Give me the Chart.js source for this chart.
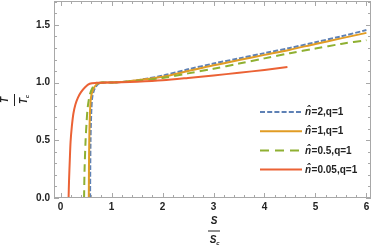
<!DOCTYPE html>
<html>
<head>
<meta charset="utf-8">
<script src="https://cdn.jsdelivr.net/npm/chart.js@4"></script>
<style>
  html, body { margin: 0; padding: 0; background: #fff; }
  #wrap { width: 374px; height: 248px; }
</style>
</head>
<body>
<div id="wrap"><canvas id="tcChart"></canvas></div>
<script>
// curve data: S/Sc (x) and T/Tc (y)
const nLabels = ['2', '1', '0.5', '0.05'];

const n2X = [0.578, 0.581, 0.587, 0.595, 0.605, 0.62, 0.645, 0.685, 0.745, 0.84, 1.0, 1.2, 1.5, 2.0, 2.5, 3.0, 3.5, 4.0, 4.5, 5.0, 5.5, 6.0];
const n2Y = [0, 0.25, 0.5, 0.66, 0.78, 0.87, 0.92, 0.96, 0.99, 1.0, 1.0, 1.005, 1.02, 1.06, 1.115, 1.165, 1.21, 1.255, 1.30, 1.35, 1.40, 1.455];

const n1X = [0.553, 0.556, 0.562, 0.57, 0.58, 0.595, 0.62, 0.66, 0.72, 0.82, 1.0, 1.2, 1.5, 2.0, 2.5, 3.0, 3.5, 4.0, 4.5, 5.0, 5.5, 6.0];
const n1Y = [0, 0.25, 0.5, 0.66, 0.78, 0.87, 0.92, 0.96, 0.99, 1.0, 1.0, 1.005, 1.02, 1.05, 1.10, 1.15, 1.195, 1.24, 1.285, 1.335, 1.383, 1.431];

const n05X = [0.46, 0.47, 0.49, 0.51, 0.53, 0.56, 0.59, 0.63, 0.70, 0.8, 1.0, 1.2, 1.5, 2.0, 2.5, 3.0, 3.5, 4.0, 4.5, 5.0, 5.5, 6.0];
const n05Y = [0, 0.25, 0.5, 0.66, 0.78, 0.87, 0.92, 0.96, 0.99, 1.0, 1.0, 1.005, 1.015, 1.04, 1.08, 1.12, 1.165, 1.21, 1.255, 1.295, 1.335, 1.368];

const n005X = [0.156, 0.165, 0.18, 0.195, 0.22, 0.25, 0.29, 0.34, 0.40, 0.48, 0.57, 0.7, 0.9, 1.2, 1.5, 2.0, 2.5, 3.0, 3.5, 4.0, 4.45];
const n005Y = [0, 0.15, 0.33, 0.485, 0.62, 0.73, 0.81, 0.87, 0.917, 0.96, 0.99, 0.998, 1.0, 1.002, 1.007, 1.02, 1.04, 1.062, 1.085, 1.11, 1.135];

const xTicks = [0, 1, 2, 3, 4, 5, 6];
const yTicks = [0, 0.5, 1.0, 1.5];

function pts(xs, ys) {
    return xs.map((x, i) => ({ x: x, y: ys[i] }));
}

const tickFont = { family: 'Liberation Sans', size: 10, weight: 'bold' };
const frameColor = '#a8a8a8';

// frame, inward ticks, axis fractions and the inset legend
const decor = {
    id: 'decor',
    afterDatasetsDraw(chart) {
        const ctx = chart.ctx;
        const a = chart.chartArea;
        const xs = chart.scales.x, ys = chart.scales.y;
        ctx.save();
        ctx.strokeStyle = frameColor;
        ctx.lineWidth = 1;
        ctx.strokeRect(a.left + 0.5, a.top + 0.5, a.right - a.left - 1, a.bottom - a.top - 1);
        ctx.beginPath();
        for (let i = 0; i <= 30; i++) {
            const v = i * 0.2;
            const px = Math.round(xs.getPixelForValue(v)) + 0.5;
            const len = (i % 5 === 0) ? 5 : 3;
            ctx.moveTo(px, a.bottom); ctx.lineTo(px, a.bottom - len);
            ctx.moveTo(px, a.top); ctx.lineTo(px, a.top + len);
        }
        for (let i = 0; i <= 17; i++) {
            const v = i * 0.1;
            const py = Math.round(ys.getPixelForValue(v)) + 0.5;
            const len = (i % 5 === 0) ? 5 : 3;
            ctx.moveTo(a.left, py); ctx.lineTo(a.left + len, py);
            ctx.moveTo(a.right, py); ctx.lineTo(a.right - len, py);
        }
        ctx.stroke();

        // x title: S over Sc
        ctx.fillStyle = '#222';
        ctx.strokeStyle = '#222';
        ctx.textAlign = 'center';
        ctx.textBaseline = 'middle';
        let cx = 214;
        ctx.font = 'italic bold 10px Liberation Sans';
        ctx.fillText('S', cx, 221);
        ctx.beginPath(); ctx.moveTo(cx - 6, 231); ctx.lineTo(cx + 6, 231); ctx.stroke();
        ctx.fillText('S', cx - 1, 240);
        ctx.font = 'italic bold 6px Liberation Sans';
        ctx.fillText('c', cx + 4, 243);

        // y title: T over Tc, rotated
        ctx.save();
        ctx.translate(14, 100);
        ctx.rotate(-Math.PI / 2);
        ctx.font = 'italic bold 10px Liberation Sans';
        ctx.fillText('T', 0, -9);
        ctx.beginPath(); ctx.moveTo(-6, 0.5); ctx.lineTo(6, 0.5); ctx.stroke();
        ctx.fillText('T', -1, 10);
        ctx.font = 'italic bold 6px Liberation Sans';
        ctx.fillText('c', 3.5, 13);
        ctx.restore();

        // legend
        ctx.textAlign = 'left';
        chart.data.datasets.forEach((ds, i) => {
            const y = 112 + i * 19.2;
            ctx.save();
            ctx.strokeStyle = ds.borderColor;
            ctx.lineWidth = ds.borderWidth;
            ctx.setLineDash(ds.legendDash || []);
            ctx.beginPath(); ctx.moveTo(260, y); ctx.lineTo(302, y); ctx.stroke();
            ctx.restore();
            ctx.fillStyle = '#222';
            ctx.font = 'italic bold 10px Liberation Sans';
            ctx.fillText('n\u0302', 305, y + 0.5);
            const w = ctx.measureText('n').width;
            ctx.font = 'bold 10px Liberation Sans';
            ctx.fillText('=' + nLabels[i] + ',q=1', 305 + w + 0.5, y + 0.5);
        });
        ctx.restore();
    }
};

const config = {
    type: 'scatter',
    data: {
        datasets: [
            { label: 'n=' + nLabels[0], data: pts(n2X, n2Y), borderColor: '#5E81B5', borderDash: [5, 2], legendDash: [5, 2.2], order: 4 },
            { label: 'n=' + nLabels[1], data: pts(n1X, n1Y), borderColor: '#E19C24', order: 3 },
            { label: 'n=' + nLabels[2], data: pts(n05X, n05Y), borderColor: '#8FB032', borderDash: [8, 5], legendDash: [9, 6], order: 2 },
            { label: 'n=' + nLabels[3], data: pts(n005X, n005Y), borderColor: '#EB6235', order: 1 }
        ].map(d => Object.assign({ showLine: true, borderWidth: 2, pointRadius: 0, tension: 0.3, fill: false }, d))
    },
    options: {
        responsive: false,
        animation: false,
        layout: { padding: { top: 1, right: 3, left: 0, bottom: 0 } },
        plugins: { legend: { display: false }, tooltip: { enabled: false } },
        scales: {
            x: {
                type: 'linear', min: -0.13, max: 6.09,
                grid: { display: false, drawTicks: false },
                border: { display: false },
                afterBuildTicks: s => { s.ticks = xTicks.map(v => ({ value: v })); },
                afterFit: s => { s.height = 50; s.paddingLeft = 0; s.paddingRight = 0; },
                ticks: { font: tickFont, color: '#222', padding: 3, maxRotation: 0, callback: v => String(v) }
            },
            y: {
                type: 'linear', min: 0, max: 1.707,
                grid: { display: false, drawTicks: false },
                border: { display: false },
                afterBuildTicks: s => { s.ticks = yTicks.map(v => ({ value: v })); },
                afterFit: s => { s.width = 54; s.paddingTop = 0; s.paddingBottom = 0; },
                ticks: { font: tickFont, color: '#222', padding: 4, callback: v => v.toFixed(1) }
            }
        }
    },
    plugins: [decor]
};

const canvas = document.getElementById('tcChart');
canvas.width = 374;
canvas.height = 248;
const tcChart = new Chart(canvas.getContext('2d'), config);
</script>
</body>
</html>
